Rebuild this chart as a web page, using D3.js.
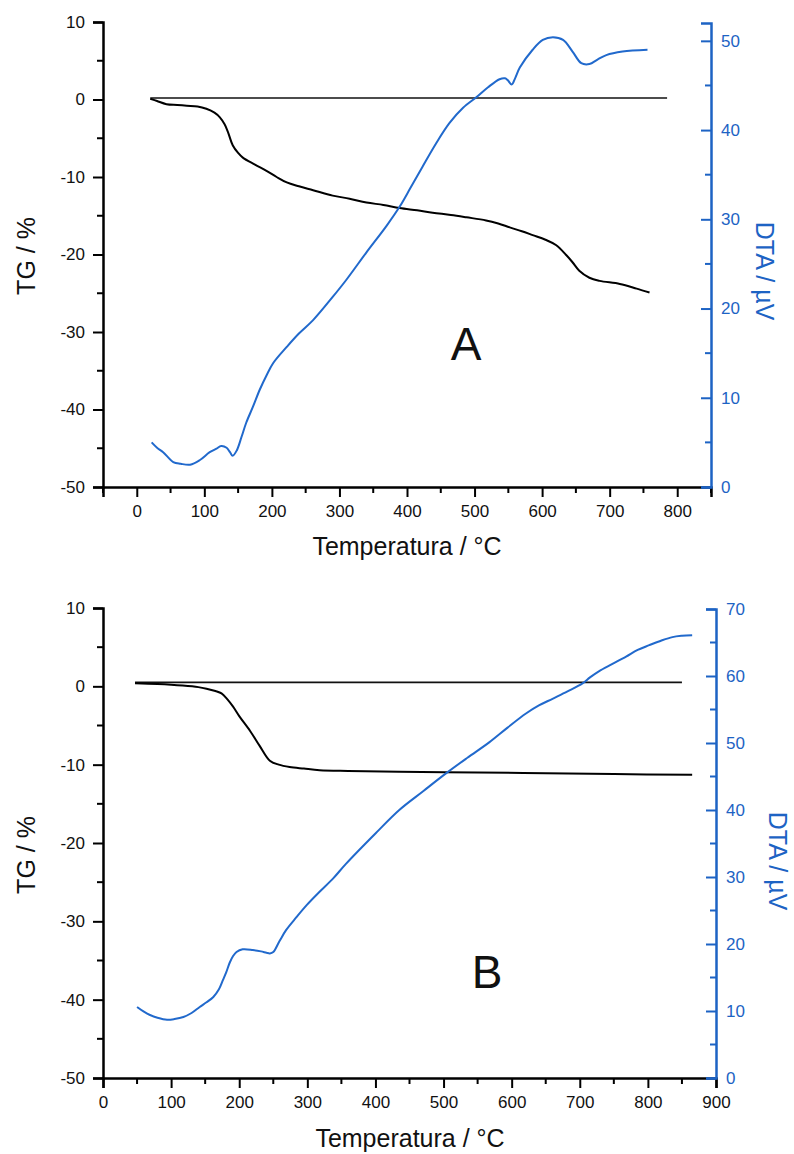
<!DOCTYPE html>
<html>
<head>
<meta charset="utf-8">
<script src="https://cdn.jsdelivr.net/npm/d3@7"></script>
<style>
  html, body { margin: 0; padding: 0; background: #fff; }
  svg { display: block; font-family: "Liberation Sans", Arial, sans-serif; }
</style>
</head>
<body>
<svg id="chart" width="794" height="1154"></svg>
<script>
// ---------------- DATA ----------------
// Panel A
const tgA = [[20,0.1],[30,-0.2],[44,-0.6],[60,-0.7],[74,-0.8],[90,-0.9],[103,-1.2],[115,-1.7],[123,-2.3],[130,-3.2],[135,-4.2],[142,-5.9],[150,-6.9],[157,-7.5],[175,-8.4],[192,-9.2],[207,-10.0],[222,-10.7],[240,-11.2],[261,-11.7],[290,-12.4],[315,-12.8],[340,-13.3],[365,-13.6],[389,-14.0],[415,-14.3],[438,-14.6],[465,-14.9],[488,-15.2],[517,-15.6],[535,-16.0],[552,-16.5],[570,-17.0],[586,-17.5],[605,-18.1],[621,-18.8],[636,-20.1],[645,-21.0],[655,-22.1],[670,-23.0],[685,-23.4],[715,-23.8],[740,-24.4],[759,-24.9]];
const baseA = [[20,0.2],[785,0.2]];
const dtaA = [[22,5.0],[30,4.4],[39,3.9],[54,2.8],[65,2.6],[79,2.5],[93,3.0],[108,3.9],[118,4.3],[125,4.6],[133,4.4],[138,3.9],[142,3.5],[148,4.1],[155,5.6],[162,7.2],[172,9.0],[182,10.9],[192,12.5],[202,13.9],[222,15.7],[240,17.2],[261,18.7],[290,21.3],[310,23.2],[340,26.3],[370,29.3],[389,31.4],[405,33.5],[423,35.9],[443,38.5],[463,40.8],[483,42.5],[503,43.7],[520,44.8],[537,45.7],[545,45.8],[549,45.6],[555,45.1],[560,45.8],[567,47.0],[586,49.0],[601,50.1],[616,50.4],[631,50.1],[645,48.8],[658,47.5],[670,47.4],[682,47.9],[695,48.4],[719,48.8],[756,49.0]];
const xTicksA = [0,100,200,300,400,500,600,700,800];
const tgTicks = [-50,-40,-30,-20,-10,0,10];
const dtaTicksA = [0,10,20,30,40,50];

// Panel B
const tgB = [[47,0.4],[80,0.3],[117,0.1],[140,-0.1],[152,-0.3],[165,-0.6],[174,-0.9],[183,-1.7],[191,-2.6],[200,-3.8],[216,-5.7],[230,-7.6],[245,-9.5],[258,-10.0],[274,-10.3],[295,-10.5],[318,-10.7],[360,-10.8],[435,-10.9],[550,-11.0],[650,-11.1],[750,-11.2],[865,-11.3]];
const baseB = [[47,0.5],[850,0.5]];
const dtaB = [[50,10.6],[60,9.9],[69,9.4],[80,9.0],[94,8.7],[105,8.8],[118,9.1],[130,9.7],[142,10.6],[152,11.3],[162,12.1],[170,13.2],[176,14.6],[181,15.8],[186,17.2],[191,18.2],[196,18.8],[205,19.2],[220,19.1],[232,18.9],[240,18.7],[245,18.6],[250,18.8],[259,20.4],[269,22.1],[284,24.0],[299,25.8],[318,27.8],[338,29.8],[357,32.0],[400,36.5],[435,40.0],[470,42.8],[504,45.5],[535,47.8],[567,50.1],[594,52.3],[621,54.4],[640,55.6],[660,56.6],[682,57.7],[704,58.9],[715,59.8],[728,60.7],[748,61.8],[768,62.9],[785,63.9],[802,64.6],[820,65.3],[836,65.8],[850,66.0],[865,66.1]];
const xTicksB = [0,100,200,300,400,500,600,700,800,900];
const dtaTicksB = [0,10,20,30,40,50,60,70];

const xTitle = "Temperatura / °C";
const tgTitle = "TG / %";
const dtaTitle = "DTA / µV";

// ---------------- DRAW ----------------
const svg = d3.select("#chart");
const BLUE = "#1d63c4";
const BLUE_LINE = "#2169cc";
const FONT = '"Liberation Sans", Arial, sans-serif';
const fmt = d => String(d);

function panel(cfg) {
  const g = svg.append("g");
  const x = d3.scaleLinear().domain(cfg.xDomain).range([cfg.left, cfg.right]);
  const yT = d3.scaleLinear().domain([-50, 10]).range([cfg.bottom, cfg.topT]);
  const yD = d3.scaleLinear().domain(cfg.dDomain).range([cfg.bottom, cfg.topD]);

  const xMinor = d3.range(cfg.xDomain[0], cfg.xDomain[1] + 1, 50).filter(v => v % 100 !== 0);
  const tMinor = d3.range(-45, 10, 10);
  const dMinor = d3.range(5, cfg.dDomain[1], 10);

  const gx = g.append("g").attr("transform", `translate(0,${cfg.bottom})`)
    .call(d3.axisBottom(x).tickValues(cfg.xTicks).tickSize(10).tickPadding(8).tickFormat(fmt));
  gx.append("g").selectAll("line").data(xMinor).join("line")
    .attr("x1", d => x(d)).attr("x2", d => x(d)).attr("y1", 0).attr("y2", 6)
    .attr("stroke", "#000").attr("stroke-width", 2);

  const gy = g.append("g").attr("transform", `translate(${cfg.left},0)`)
    .call(d3.axisLeft(yT).tickValues(tgTicks).tickSize(10).tickPadding(8).tickFormat(fmt));
  gy.append("g").selectAll("line").data(tMinor).join("line")
    .attr("y1", d => yT(d)).attr("y2", d => yT(d)).attr("x1", 0).attr("x2", -6)
    .attr("stroke", "#000").attr("stroke-width", 2);

  const gr = g.append("g").attr("transform", `translate(${cfg.right},0)`)
    .call(d3.axisRight(yD).tickValues(cfg.dTicks).tickSize(-10).tickPadding(10).tickFormat(fmt));
  gr.append("g").selectAll("line").data(dMinor).join("line")
    .attr("y1", d => yD(d)).attr("y2", d => yD(d)).attr("x1", 0).attr("x2", -6)
    .attr("stroke", BLUE).attr("stroke-width", 2);

  [gx, gy, gr].forEach(a => a.attr("font-family", FONT).attr("font-size", 17));
  [gx, gy].forEach(a => {
    a.select(".domain").attr("stroke", "#000").attr("stroke-width", 2.5);
    a.selectAll(".tick line").attr("stroke", "#000").attr("stroke-width", 2);
    a.selectAll(".tick text").attr("fill", "#111");
  });
  gr.select(".domain").attr("stroke", BLUE).attr("stroke-width", 2.5);
  gr.selectAll(".tick line").attr("stroke", BLUE).attr("stroke-width", 2);
  gr.selectAll(".tick text").attr("fill", BLUE);

  const lineT = d3.line().x(d => x(d[0])).y(d => yT(d[1])).curve(d3.curveCatmullRom.alpha(0.5));
  const lineD = d3.line().x(d => x(d[0])).y(d => yD(d[1])).curve(d3.curveCatmullRom.alpha(0.5));
  g.append("path").datum(cfg.base).attr("d", lineT).attr("fill", "none")
    .attr("stroke", "#111").attr("stroke-width", 1.6);
  g.append("path").datum(cfg.tg).attr("d", lineT).attr("fill", "none")
    .attr("stroke", "#000").attr("stroke-width", 2);
  g.append("path").datum(cfg.dta).attr("d", lineD).attr("fill", "none")
    .attr("stroke", BLUE_LINE).attr("stroke-width", 2);

  g.append("text").attr("x", cfg.xTitleX).attr("y", cfg.xTitleY).attr("text-anchor", "middle")
    .attr("font-family", FONT).attr("font-size", 25).attr("fill", "#111").text(xTitle);
  g.append("text").attr("transform", `translate(35,${cfg.tgTitleY}) rotate(-90)`)
    .attr("text-anchor", "middle").attr("font-family", FONT).attr("font-size", 25).attr("fill", "#111").text(tgTitle);
  g.append("text").attr("transform", `translate(${cfg.dtaTitleX},${cfg.dtaTitleY}) rotate(90)`)
    .attr("text-anchor", "middle").attr("font-family", FONT).attr("font-size", 25).attr("fill", BLUE).text(dtaTitle);
  g.append("text").attr("x", cfg.letterX).attr("y", cfg.letterY).attr("text-anchor", "middle")
    .attr("font-family", FONT).attr("font-size", 46).attr("fill", "#111").text(cfg.letter);
}

panel({
  xDomain: [-50, 850], left: 103, right: 711, bottom: 487, topT: 22, topD: 23,
  dDomain: [0, 52], xTicks: xTicksA, dTicks: dtaTicksA,
  tg: tgA, base: baseA, dta: dtaA,
  xTitleX: 407, xTitleY: 555, tgTitleY: 256, dtaTitleX: 756, dtaTitleY: 271,
  letter: "A", letterX: 466, letterY: 360
});

panel({
  xDomain: [0, 900], left: 103, right: 716, bottom: 1078, topT: 608, topD: 609,
  dDomain: [0, 70], xTicks: xTicksB, dTicks: dtaTicksB,
  tg: tgB, base: baseB, dta: dtaB,
  xTitleX: 410, xTitleY: 1147, tgTitleY: 855, dtaTitleX: 769, dtaTitleY: 861,
  letter: "B", letterX: 487, letterY: 988
});
</script>
</body>
</html>
